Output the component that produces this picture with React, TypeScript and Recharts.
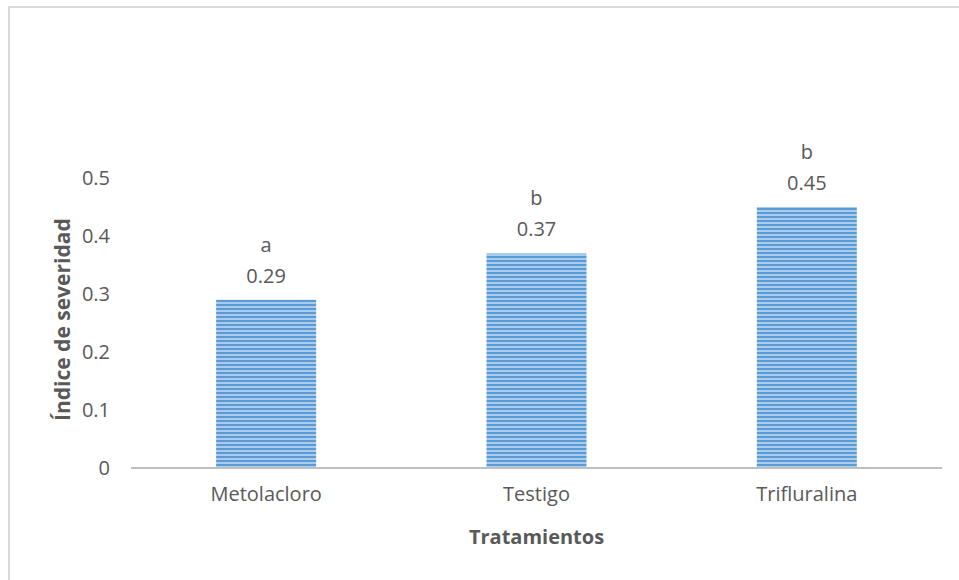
import { BarChart, Bar, XAxis, YAxis, LabelList } from 'recharts'

const categories = ['Metolacloro', 'Testigo', 'Trifluralina']
const values = [0.29, 0.37, 0.45]
const letters = ['a', 'b', 'b']
const yTicks = [0, 0.1, 0.2, 0.3, 0.4, 0.5]

const data = categories.map((name, i) => ({ name, value: values[i], letter: letters[i] }))

const TEXT = '#595959'
const FONT = '"Open Sans", sans-serif'

const renderLabel = (props: any) => {
    const { x, y, width, index } = props
    const cx = x + width / 2
    return (
        <g>
            <text x={cx} y={y - 48} textAnchor="middle" fill={TEXT} fontSize={20} fontFamily={FONT}>
                {letters[index]}
            </text>
            <text x={cx} y={y - 17} textAnchor="middle" fill={TEXT} fontSize={20} fontFamily={FONT}>
                {values[index].toFixed(2)}
            </text>
        </g>
    )
}

export default function App() {
    return (
        <div style={{ position: 'absolute', left: 0, top: 0, width: 959, height: 580, background: '#fff', overflow: 'hidden' }}>
            {/* frame of the Excel chart area */}
            <div style={{ position: 'absolute', left: 8, top: 6, width: 1000, height: 700, border: '2px solid #d9d9d9' }} />
            <div style={{ position: 'absolute', left: 0, top: 0 }}>
                <BarChart
                    width={959}
                    height={580}
                    data={data}
                    margin={{ top: 178, right: 17, bottom: 82, left: 0 }}
                    barCategoryGap="31.5%"
                >
                    <defs>
                        <pattern id="stripes" width="8" height="4" patternUnits="userSpaceOnUse">
                            <rect width="8" height="4" fill="#a9cbec" />
                            <rect width="8" height="2" fill="#5b9bd5" />
                        </pattern>
                    </defs>
                    <XAxis
                        dataKey="name"
                        height={30}
                        tickLine={false}
                        axisLine={{ stroke: '#bfbfbf', strokeWidth: 2 }}
                        tickSize={0}
                        tickMargin={19}
                        tick={{ fill: TEXT, fontSize: 20, fontFamily: FONT }}
                        label={{ value: 'Tratamientos', position: 'bottom', offset: 32, fill: TEXT, fontSize: 20, fontWeight: 'bold', fontFamily: FONT }}
                    />
                    <YAxis
                        width={131}
                        domain={[0, 0.5]}
                        ticks={yTicks}
                        tickFormatter={(v: number) => String(v)}
                        axisLine={false}
                        tickLine={false}
                        tickSize={0}
                        tickMargin={21}
                        tick={{ fill: TEXT, fontSize: 20, fontFamily: FONT }}
                        label={{ value: 'Índice de severidad', angle: -90, position: 'insideLeft', offset: 63, dy: 98, fill: TEXT, fontSize: 21, fontWeight: 'bold', fontFamily: FONT }}
                    />
                    <Bar dataKey="value" fill="url(#stripes)" isAnimationActive={false}>
                        <LabelList dataKey="value" content={renderLabel} />
                    </Bar>
                </BarChart>
            </div>
        </div>
    )
}
